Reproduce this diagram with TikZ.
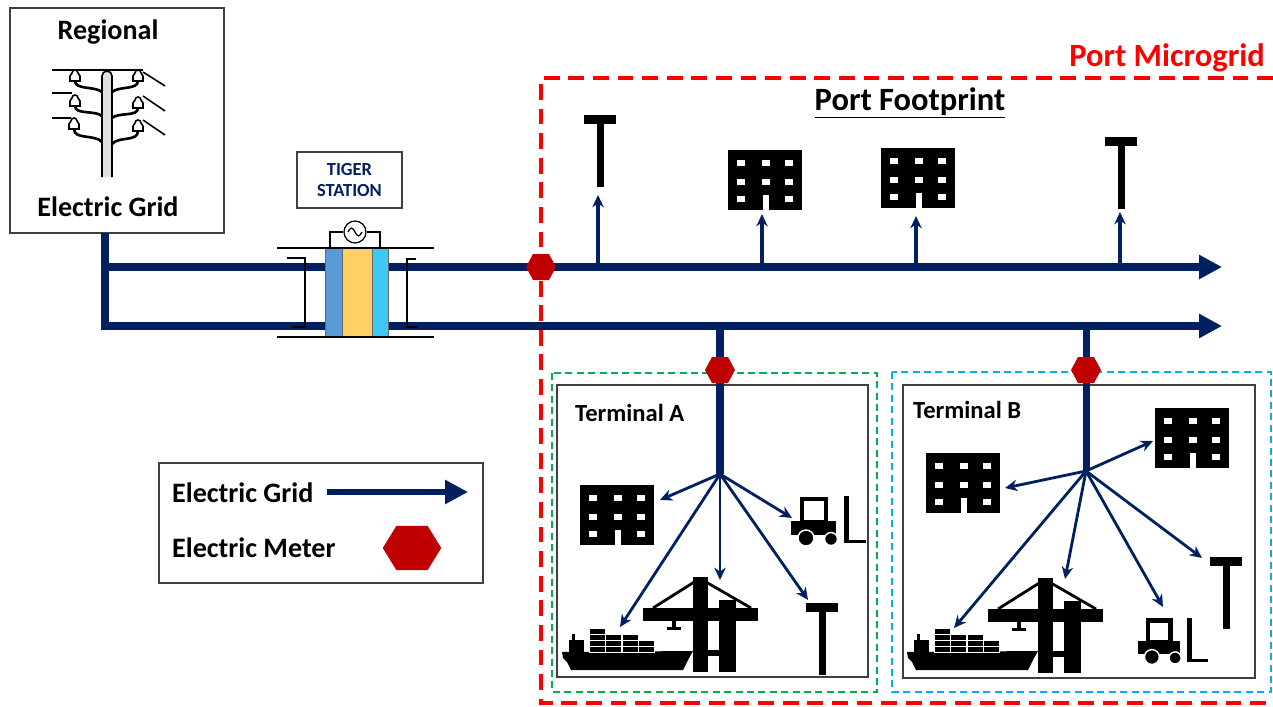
\documentclass[tikz,border=0pt]{standalone}
\usepackage{fontspec}
\setmainfont{Carlito}
\usetikzlibrary{arrows.meta}
\definecolor{navy}{RGB}{0,32,96}
\definecolor{meterred}{RGB}{192,0,0}
\definecolor{steel}{RGB}{91,155,213}
\definecolor{amber}{RGB}{255,208,102}
\definecolor{sky}{RGB}{64,200,244}
\definecolor{termgreen}{RGB}{0,176,80}
\definecolor{termblue}{RGB}{0,176,240}
\tikzset{% styles for lines, boxes and labels
    bus/.style={navy, line width=4.5pt, -{Triangle[length=13pt,width=13pt]}},
    drop/.style={navy, line width=4pt},
    feed/.style={navy, line width=1.8pt, -{Stealth[length=7pt,width=6.5pt]}},
    box/.style={draw=black!75, line width=1pt},
    lbl/.style={font=\bfseries\fontsize{16}{18}\selectfont},
    biglbl/.style={font=\bfseries\fontsize{18.5}{21}\selectfont},
    tlbl/.style={font=\bfseries\fontsize{14}{16}\selectfont, anchor=west},
    % icons, drawn in the picture's units (y grows downwards)
    pics/meter/.style={code={
        \fill[meterred] (-15,0) -- (-8,-13) -- (8,-13) -- (15,0) -- (8,13) -- (-8,13) -- cycle;}},
    pics/building/.style={code={
        \fill (-37,-30) rectangle (37,30);
        \foreach \x in {-24,1,24} \foreach \y in {-17,2}
            \fill[white] (\x-4,\y-3) rectangle (\x+4,\y+3);
        \foreach \x in {-24,24} \fill[white] (\x-4,16) rectangle (\x+4,22);
        \fill[white] (-2,15) rectangle (4,30);}},
    pics/lamp/.style={code={
        \fill (-16,0) rectangle (16,9);
        \fill (-3.5,9) rectangle (3.5,72);}},
    pics/crane/.style={code={
        \fill (51,0) rectangle (66,95);
        \fill (77,23) rectangle (94,95);
        \fill (1,31) rectangle (116,44);
        \fill (66,73) rectangle (77,79);
        \draw[line width=1.6pt] (57,2) -- (11,31) (64,5) -- (109,31);
        \fill (30,44) rectangle (34,50);
        \fill (25,50) rectangle (39,53);}},
    pics/ship/.style={code={
        \fill (0,24) -- (131,23) -- (126,32) -- (121,42) -- (9,42) -- (5,34) -- (1,30) -- cycle;
        \fill (7,12) rectangle (22,25);
        \fill (10,6) rectangle (13,12);
        \foreach \cx/\cy in {27/0,27/6,27/12,27/18,43/6,43/12,43/18,60/6,60/12,60/18,76/12,76/18}
            \filldraw[draw=white, line width=0.5pt] (\cx,\cy) rectangle +(16,6);}},
    pics/forklift/.style={code={
        \draw[line width=2.6pt] (12,4) rectangle (36,27);
        \fill (1,26) rectangle (46,40);
        \filldraw[draw=white, line width=0.8pt] (16,43) circle[radius=8];
        \filldraw[draw=white, line width=0.8pt] (41,44) circle[radius=6.5];
        \fill (54,1) rectangle (59,48);
        \fill (54,45) rectangle (76,48);}},
    pics/pole/.style={code={
        \draw[line width=0.9pt, fill=black!12] (-5,105) -- (-5,4) arc[start angle=180, end angle=360, radius=5] -- (5,105);
        \draw[line width=0.9pt] (-55,-2) -- (36,-2) (-55,21) -- (-35,21) (-55,46) -- (-36,46);
        \draw[line width=0.9pt] (36,0) -- (58,14) (36,24) -- (58,39) (36,48) -- (58,63);
        \draw[line width=1.5pt] (-32,9) .. controls (-32,18) and (-12,14) .. (-5,20)
                                (-32,34) .. controls (-32,43) and (-12,38) .. (-5,44)
                                (-33,57) .. controls (-33,68) and (-12,62) .. (-5,70)
                                (31,9) .. controls (31,18) and (12,14) .. (5,20)
                                (31,36) .. controls (31,45) and (12,40) .. (5,46)
                                (31,59) .. controls (31,70) and (12,64) .. (5,72);
        \foreach \x/\y in {-32/1,-32/26,-33/49,31/1,31/28,31/51}
            \draw[line width=0.9pt, fill=white] (\x-5,\y+8) -- (\x-5,\y+3) -- (\x-3,\y)
                arc[start angle=180, end angle=360, radius=3] -- (\x+5,\y+3) -- (\x+5,\y+8) -- cycle;}}
}

\begin{document}
\begin{tikzpicture}[x=0.02cm, y=-0.02cm]
    \useasboundingbox (0,0) rectangle (1273,706);

    % regional grid
    \node[box, minimum width=4.28cm, minimum height=4.5cm] (grid) at (117,120.5) {};
    \node[lbl] (gridtop) at (108,32) {Regional};
    \node[lbl] (gridname) at (108,207) {Electric Grid};
    \pic at (107,72) {pole};

    % feeders
    \coordinate (gridOut) at (105,233);
    \coordinate (tap) at (105,267);
    \coordinate (topEnd) at (1222,267);
    \coordinate (lowEnd) at (1222,326);
    \draw[bus] (gridOut) |- (lowEnd);
    \draw[bus] (tap) -- (topEnd);

    % tiger station
    \node[box, minimum width=2.1cm, minimum height=1.12cm, align=center, text=navy,
          font=\bfseries\fontsize{10.5}{12.5}\selectfont] (tiger) at (349.5,180) {TIGER\\STATION};
    \fill[steel, draw=black!60, line width=0.5pt] (325,248) rectangle (342,337);
    \fill[amber, draw=black!60, line width=0.5pt] (342,248) rectangle (372,337);
    \fill[sky, draw=black!60, line width=0.5pt] (372,248) rectangle (388,337);
    \node[circle, draw, fill=white, line width=0.7pt, minimum size=0.44cm, inner sep=0] (gen) at (355,232) {};
    \draw[line width=0.7pt] (348,232) sin (351.5,228) cos (355,232) sin (358.5,236) cos (362,232);
    \draw[line width=0.7pt] (330,248) |- (gen.west) (380,248) |- (gen.east);
    \draw[line width=1.2pt] (277,248) -- (434,248) (277,337) -- (434,337);
    \draw[line width=1.2pt] (287,258) -- (305,258) -- (305,327) -- (292,327);
    \draw[line width=1.2pt] (416,259) -- (407,259) -- (407,327) -- (418,327);

    % port microgrid
    \draw[red, line width=2.3pt, dash pattern=on 9pt off 5pt] (1273,78) -- (541,78) -- (541,703) -- (1273,703);
    \node[biglbl, red] (micro) at (1167,58) {Port Microgrid};
    \node[biglbl] (foot) at (910,103) {\underline{Port Footprint}};

    % loads on the footprint feeder
    \pic at (600,115) {lamp};
    \pic at (765,180) {building};
    \pic at (918,178) {building};
    \pic at (1121,137) {lamp};
    \coordinate (t1) at (598,267);   \coordinate (l1) at (598,195);
    \coordinate (t2) at (762,267);   \coordinate (l2) at (762,214);
    \coordinate (t3) at (916,267);   \coordinate (l3) at (916,216);
    \coordinate (t4) at (1120,267);  \coordinate (l4) at (1120,212);
    \foreach \i in {1,...,4} \draw[feed] (t\i) -- (l\i);

    % terminal A
    \draw[termgreen, line width=1.4pt, dash pattern=on 4pt off 2.5pt] (552,373) rectangle (877,692);
    \node[box, minimum width=6.22cm, minimum height=5.84cm] (termA) at (712.5,531) {};
    \node[tlbl] (nameA) at (569,413) {Terminal A};
    \coordinate (tapA) at (720,326);
    \coordinate (hubA) at (720,474);
    \draw[drop] (tapA) -- (hubA);
    \pic at (617,515) {building};
    \pic at (790,495) {forklift};
    \pic at (642,577) {crane};
    \pic at (562,628) {ship};
    \pic at (822,603) {lamp};
    \coordinate (bldA) at (660,500);
    \coordinate (shipA) at (620,627);
    \coordinate (craneA) at (720,580);
    \coordinate (lampA) at (808,600);
    \coordinate (forkA) at (792,518);
    \foreach \n in {bldA,shipA,craneA,lampA,forkA} \draw[feed, line width=1.6pt] (hubA) -- (\n);

    % terminal B
    \draw[termblue, line width=1.4pt, dash pattern=on 4pt off 2.5pt] (892,372) rectangle (1271,692);
    \node[box, minimum width=7.04cm, minimum height=5.86cm] (termB) at (1079,531.5) {};
    \node[tlbl] (nameB) at (907,410) {Terminal B};
    \coordinate (tapB) at (1086,326);
    \coordinate (hubB) at (1086,471);
    \draw[drop] (tapB) -- (hubB);
    \pic at (1192,438) {building};
    \pic at (963,483) {building};
    \pic at (987,578) {crane};
    \pic at (907,628) {ship};
    \pic[scale=0.93] at (1137,617) {forklift};
    \pic at (1226,557) {lamp};
    \coordinate (bldB) at (1153,441);
    \coordinate (offB) at (1005,488);
    \coordinate (shipB) at (954,628);
    \coordinate (craneB) at (1065,579);
    \coordinate (forkB) at (1163,607);
    \coordinate (lampB) at (1202,558);
    \foreach \n in {bldB,offB,shipB,craneB,forkB,lampB} \draw[feed, line width=1.6pt] (hubB) -- (\n);

    % meters
    \pic at (541,267) {meter};
    \pic at (720,370) {meter};
    \pic at (1086,370) {meter};

    % legend
    \node[box, minimum width=6.48cm, minimum height=2.4cm] (legend) at (321,523) {};
    \node[lbl, anchor=west] (legGrid) at (166,493) {Electric Grid};
    \node[lbl, anchor=west] (legMeter) at (166,548) {Electric Meter};
    \coordinate (legA) at (327,492);
    \coordinate (legB) at (468,492);
    \draw[bus, line width=3.8pt] (legA) -- (legB);
    \pic[xscale=1.95, yscale=1.7] at (412,548) {meter};
\end{tikzpicture}
\end{document}
